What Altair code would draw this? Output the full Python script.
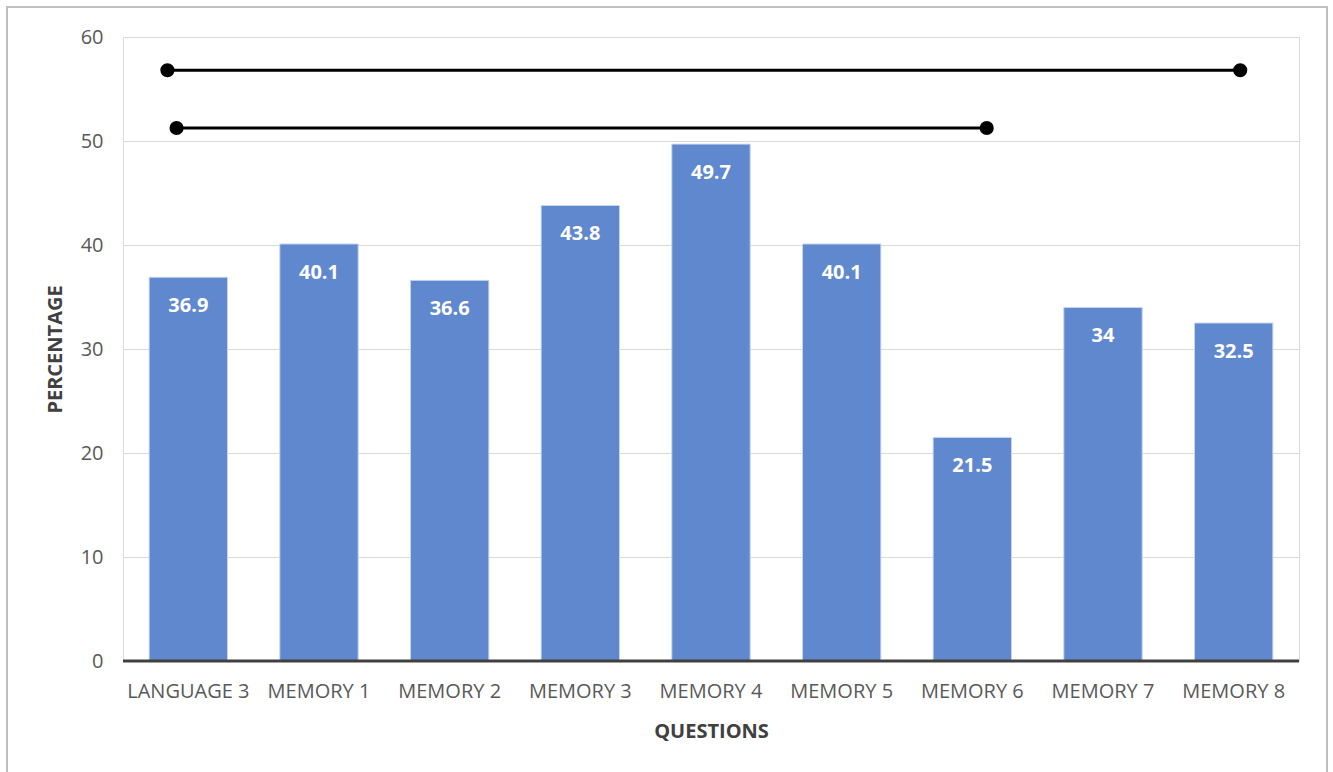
import altair as alt
import pandas as pd

categories = ["LANGUAGE 3", "MEMORY 1", "MEMORY 2", "MEMORY 3", "MEMORY 4",
              "MEMORY 5", "MEMORY 6", "MEMORY 7", "MEMORY 8"]
values = [36.9, 40.1, 36.6, 43.8, 49.7, 40.1, 21.5, 34, 32.5]
labels = ["36.9", "40.1", "36.6", "43.8", "49.7", "40.1", "21.5", "34", "32.5"]

# bracket lines (positions in category units, 0..9 across the axis)
line_ids = ["top", "top", "bottom", "bottom"]
line_pos = [0.34, 8.55, 0.41, 6.61]
line_val = [56.8, 56.8, 51.25, 51.25]

FONT = "Open Sans"

bars_df = pd.DataFrame({"q": categories, "v": values, "lab": labels})
lines_df = pd.DataFrame({"id": line_ids, "pos": line_pos, "val": line_val})

yscale = alt.Scale(domain=[0, 60])

xenc = alt.X("q:N", sort=categories, title="QUESTIONS",
             scale=alt.Scale(paddingInner=0.4, paddingOuter=0.2),
             axis=alt.Axis(labelAngle=0, labelFontSize=20, labelColor="#595959",
                           labelFont=FONT, labelPadding=20, domain=False, ticks=False,
                           titleFont=FONT, titleFontSize=20, titleFontWeight="bold",
                           titleColor="#404040", titlePadding=20, grid=False))

yenc = alt.Y("v:Q", scale=yscale, title="PERCENTAGE",
             axis=alt.Axis(values=[0, 10, 20, 30, 40, 50, 60], labelFontSize=20,
                           labelColor="#595959", labelFont=FONT, labelPadding=20,
                           domain=False, ticks=False, gridColor="#d9d9d9",
                           titleFont=FONT, titleFontSize=20, titleFontWeight="bold",
                           titleColor="#404040", titlePadding=15))

frame = alt.Chart(pd.DataFrame({"a": [0]})).mark_rect(
    filled=False, stroke="#bfbfbf", strokeWidth=2
).encode(x=alt.value(-116), x2=alt.value(1204), y=alt.value(-30), y2=alt.value(760))

bars = alt.Chart(bars_df).mark_bar(color="#6088cf", stroke="#c9d6ee", strokeWidth=1).encode(
    x=xenc, y=yenc)

text = alt.Chart(bars_df).mark_text(
    color="white", fontWeight="bold", fontSize=20, font=FONT, baseline="middle", dy=29
).encode(x=alt.X("q:N", sort=categories), y=alt.Y("v:Q", scale=yscale), text="lab:N")

baseline = alt.Chart(pd.DataFrame({"z": [0]})).mark_rule(
    color="#404040", strokeWidth=3
).encode(y=alt.Y("z:Q", scale=yscale), x=alt.value(0), x2=alt.value(1176))

base_cat = alt.layer(bars, text, baseline)

lx = alt.X("pos:Q", scale=alt.Scale(domain=[0, 9], nice=False, zero=False), axis=None)
ly = alt.Y("val:Q", scale=yscale)
blines = alt.Chart(lines_df).mark_line(color="black", strokeWidth=3).encode(
    x=lx, y=ly, detail="id:N")
bpoints = alt.Chart(lines_df).mark_point(filled=True, color="black", size=200, opacity=1).encode(
    x=lx, y=ly)

chart = alt.layer(base_cat, blines, bpoints, frame).resolve_scale(x="independent").properties(
    width=1176, height=624,
    autosize=alt.AutoSizeParams(type="none"),
    padding={"left": 123, "top": 37, "right": 34, "bottom": 111},
).configure_view(stroke=None).configure(background="white")

chart.save("out.html", embed_options={"renderer": "svg", "actions": False})
